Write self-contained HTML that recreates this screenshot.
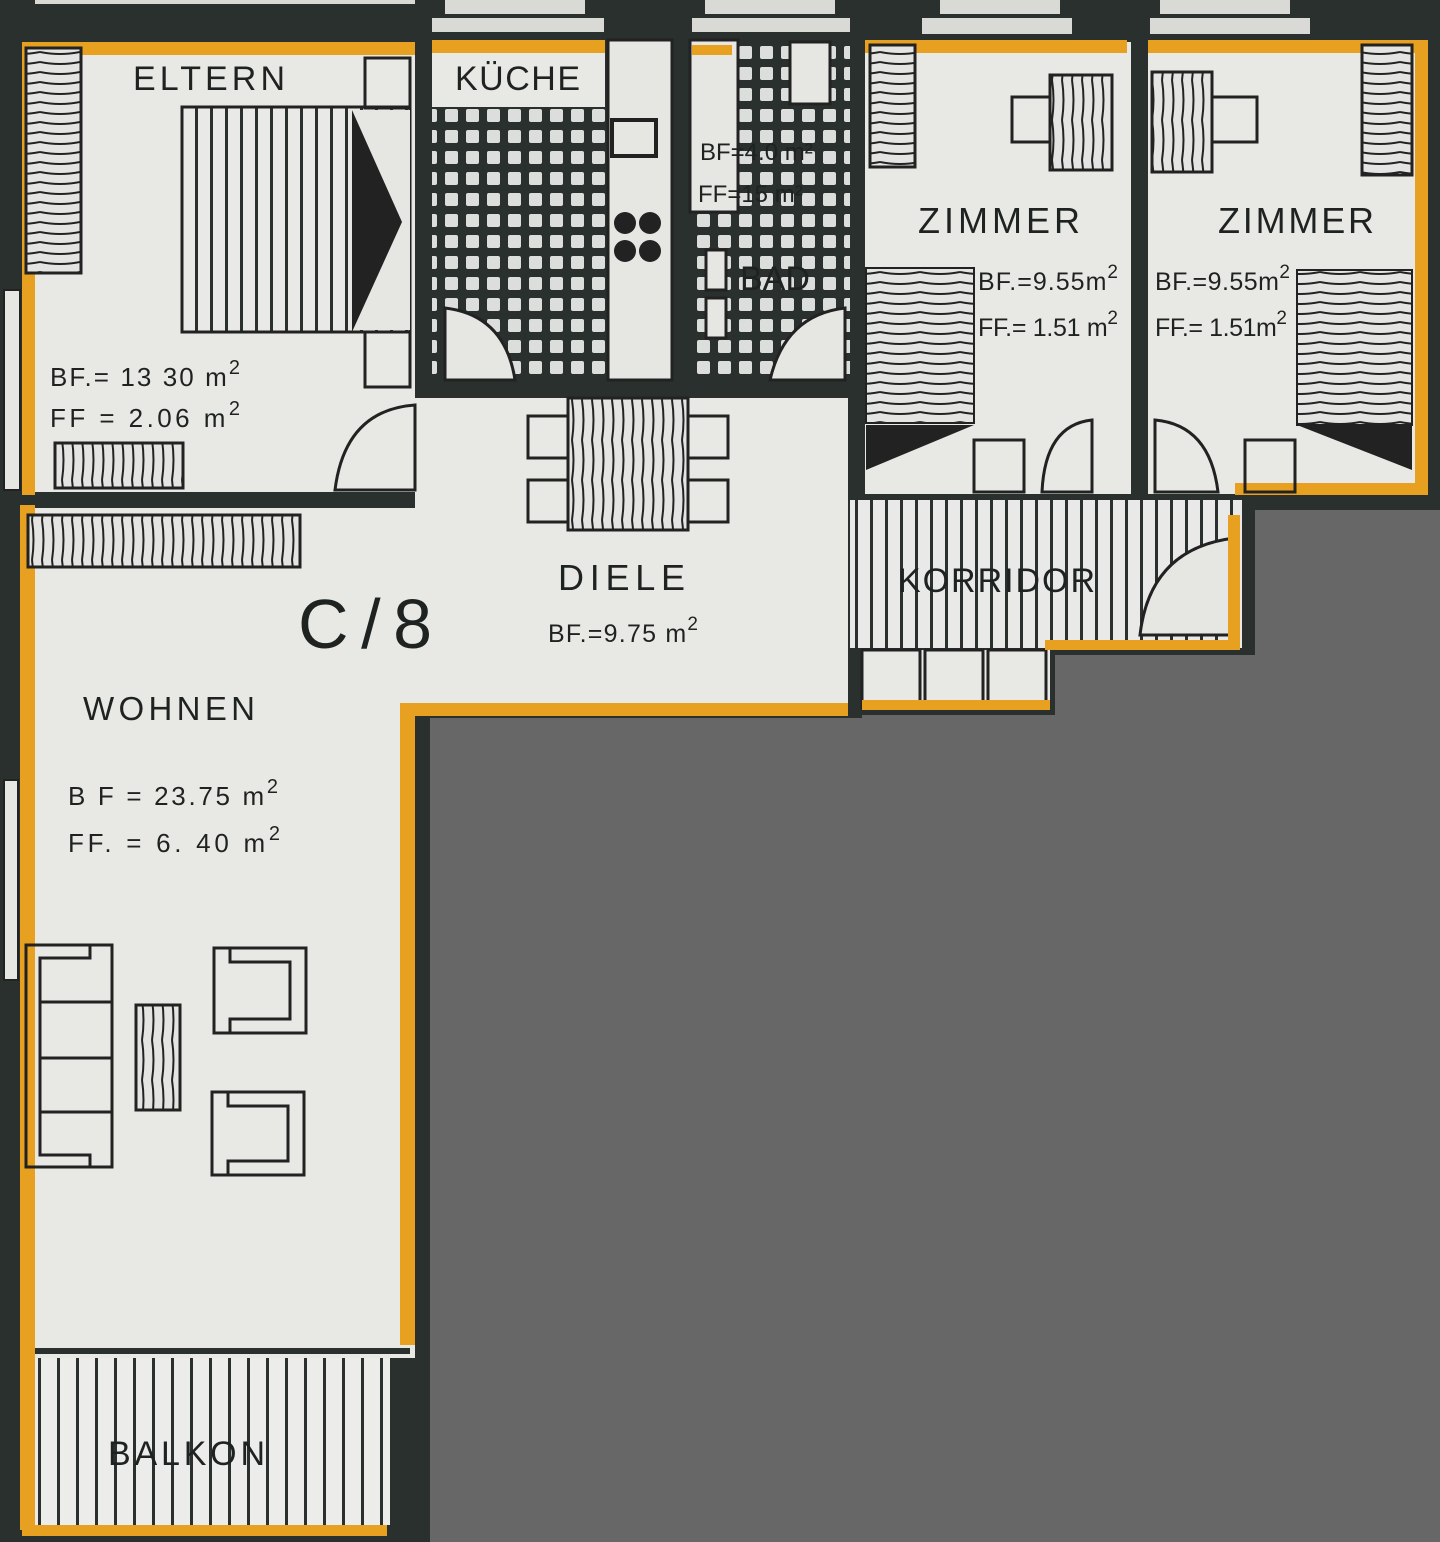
<!DOCTYPE html>
<html><head><meta charset="utf-8"><style>
html,body{margin:0;padding:0;background:#2a302e}
svg{display:block}
text{font-family:"Liberation Sans",sans-serif;fill:#1e2322}
</style></head><body>
<svg width="1440" height="1542" viewBox="0 0 1440 1542" xmlns="http://www.w3.org/2000/svg">
<defs>
<pattern id="tile" width="21" height="21" patternUnits="userSpaceOnUse">
<rect width="21" height="21" fill="#2a302e"/><rect x="4" y="4" width="13" height="13" rx="2" fill="#dcdedb"/>
</pattern>
<pattern id="vstripe" width="15" height="20" patternUnits="userSpaceOnUse">
<rect width="15" height="20" fill="#e9eae7"/><rect x="0" width="3" height="20" fill="#2a302e"/>
</pattern>
<pattern id="vstripe2" width="19" height="20" patternUnits="userSpaceOnUse">
<rect width="19" height="20" fill="#ecedea"/><rect x="0" width="3" height="20" fill="#2a302e"/>
</pattern>
<pattern id="wood" width="10" height="40" patternUnits="userSpaceOnUse">
<rect width="10" height="40" fill="#e4e5e2"/><path d="M2 0 Q5 20 2 40" stroke="#222" stroke-width="2" fill="none"/>
</pattern>
<pattern id="woodh" width="40" height="10" patternUnits="userSpaceOnUse">
<rect width="40" height="10" fill="#e4e5e2"/><path d="M0 2 Q20 6 40 2" stroke="#222" stroke-width="2" fill="none"/>
</pattern>
</defs>
<rect width="1440" height="1542" fill="#2a302e"/>
<g fill="#d9dad6">
<rect x="445" y="0" width="140" height="14"/><rect x="432" y="18" width="172" height="14"/>
<rect x="705" y="0" width="130" height="14"/><rect x="692" y="18" width="158" height="14"/>
<rect x="940" y="0" width="120" height="14"/><rect x="922" y="18" width="150" height="16"/>
<rect x="1160" y="0" width="130" height="14"/><rect x="1150" y="18" width="160" height="16"/>
<rect x="35" y="0" width="380" height="4"/>
</g>
<g fill="#e8e9e5">
<rect x="22" y="42" width="393" height="450"/>
<rect x="432" y="42" width="173" height="65"/>
<rect x="415" y="398" width="433" height="307"/>
<rect x="865" y="42" width="266" height="452"/>
<rect x="1148" y="42" width="277" height="452"/>
<rect x="20" y="508" width="395" height="850"/>
<rect x="862" y="650" width="188" height="60"/>
</g>
<rect x="4" y="290" width="16" height="200" fill="#e6e7e3" stroke="#222" stroke-width="2"/>
<rect x="4" y="780" width="14" height="200" fill="#e6e7e3" stroke="#222" stroke-width="2"/>
<rect x="432" y="107" width="173" height="275" fill="url(#tile)"/>
<rect x="690" y="40" width="160" height="342" fill="url(#tile)"/>
<rect x="608" y="40" width="64" height="340" fill="#e6e7e3" stroke="#222" stroke-width="3"/>
<rect x="612" y="120" width="44" height="36" fill="none" stroke="#222" stroke-width="4"/>
<g fill="#222"><circle cx="625" cy="223" r="11"/><circle cx="650" cy="223" r="11"/><circle cx="625" cy="251" r="11"/><circle cx="650" cy="251" r="11"/></g>
<rect x="690" y="40" width="48" height="172" fill="#e6e7e3" stroke="#222" stroke-width="3"/>
<rect x="790" y="42" width="40" height="62" fill="#e6e7e3" stroke="#222" stroke-width="3"/>
<rect x="706" y="250" width="20" height="40" fill="#e6e7e3" stroke="#222" stroke-width="3"/>
<rect x="706" y="298" width="20" height="40" fill="#e6e7e3" stroke="#222" stroke-width="3"/>
<text x="700" y="160" font-size="24">BF=4.0 m²</text><text x="698" y="202" font-size="24">FF=15 m²</text>
<text x="740" y="290" font-size="34" fill="#333">BAD</text>
<path d="M445 308 Q505 315 515 380 L445 380Z" fill="#e6e7e3" stroke="#222" stroke-width="3"/>
<path d="M845 308 Q785 315 770 380 L845 380Z" fill="#e6e7e3" stroke="#222" stroke-width="3"/>
<rect x="850" y="500" width="392" height="148" fill="url(#vstripe)"/>
<path d="M1235 538 Q1150 548 1140 635 L1235 635Z" fill="#e6e7e3" stroke="#222" stroke-width="3"/>
<g fill="none" stroke="#222" stroke-width="3"><rect x="862" y="650" width="58" height="58"/><rect x="925" y="650" width="58" height="58"/><rect x="988" y="650" width="58" height="58"/></g>
<rect x="30" y="1358" width="360" height="167" fill="url(#vstripe2)"/>
<rect x="20" y="1348" width="390" height="6" fill="#2a302e"/>
<polygon points="430,718 862,718 862,715 1055,715 1055,655 1255,655 1255,510 1440,510 1440,1542 430,1542" fill="#676767"/>
<g fill="#e8a020">
<rect x="22" y="42" width="393" height="13"/><rect x="22" y="42" width="13" height="453"/>
<rect x="432" y="40" width="173" height="13"/><rect x="692" y="45" width="40" height="10"/>
<rect x="865" y="40" width="262" height="13"/><rect x="1148" y="40" width="280" height="13"/>
<rect x="1415" y="40" width="13" height="455"/><rect x="1235" y="483" width="192" height="12"/>
<rect x="20" y="505" width="15" height="1025"/><rect x="22" y="1525" width="365" height="11"/>
<rect x="400" y="705" width="15" height="640"/><rect x="400" y="703" width="448" height="13"/>
<rect x="862" y="700" width="188" height="10"/>
<rect x="1045" y="640" width="195" height="10"/><rect x="1228" y="515" width="12" height="125"/>
</g>
<rect x="26" y="48" width="55" height="225" fill="url(#woodh)" stroke="#222" stroke-width="3"/>
<rect x="182" y="107" width="228" height="225" fill="url(#vstripe)" stroke="#222" stroke-width="3"/>
<rect x="350" y="110" width="60" height="220" fill="#e6e7e3"/>
<polygon points="352,110 402,222 352,332" fill="#222"/>
<rect x="365" y="58" width="45" height="50" fill="none" stroke="#222" stroke-width="3"/>
<rect x="365" y="332" width="45" height="55" fill="none" stroke="#222" stroke-width="3"/>
<rect x="55" y="443" width="128" height="45" fill="url(#wood)" stroke="#222" stroke-width="3"/>
<path d="M415 405 Q345 410 335 490 L415 490Z" fill="none" stroke="#222" stroke-width="3"/>
<text x="133" y="90" font-size="34" textLength="152">ELTERN</text>
<text x="455" y="90" font-size="34" textLength="125">KÜCHE</text>
<text x="50" y="386" font-size="26" textLength="190">BF.= 13 30 m<tspan font-size="20" dy="-12">2</tspan></text>
<text x="50" y="427" font-size="26" textLength="190">FF = 2.06  m<tspan font-size="20" dy="-12">2</tspan></text>
<rect x="28" y="515" width="272" height="52" fill="url(#wood)" stroke="#222" stroke-width="3"/>
<text x="298" y="648" font-size="70" textLength="134">C/8</text>
<text x="83" y="720" font-size="33" textLength="172">WOHNEN</text>
<text x="68" y="805" font-size="26" textLength="210">B F  = 23.75 m<tspan font-size="20" dy="-12">2</tspan></text>
<text x="68" y="852" font-size="26" textLength="212">FF.  =  6. 40 m<tspan font-size="20" dy="-12">2</tspan></text>
<g fill="none" stroke="#222" stroke-width="3">
<rect x="26" y="945" width="86" height="222"/><path d="M90 945 V958 H40 V1155 H90 V1167"/>
<path d="M40 1002 H112 M40 1058 H112 M40 1112 H112"/>
<rect x="214" y="948" width="92" height="85"/><path d="M230 948 V962 H290 V1019 H230 V1033"/>
<rect x="212" y="1092" width="92" height="83"/><path d="M228 1092 V1106 H288 V1161 H228 V1175"/>
</g>
<rect x="136" y="1005" width="44" height="105" fill="url(#wood)" stroke="#222" stroke-width="3"/>
<text x="108" y="1465" font-size="34" fill="#333" textLength="157">BALKON</text>
<rect x="568" y="398" width="120" height="132" fill="url(#wood)" stroke="#222" stroke-width="3"/>
<g fill="none" stroke="#222" stroke-width="3">
<rect x="528" y="416" width="40" height="42"/><rect x="528" y="480" width="40" height="42"/>
<rect x="688" y="416" width="40" height="42"/><rect x="688" y="480" width="40" height="42"/>
</g>
<text x="558" y="590" font-size="36" textLength="127">DIELE</text>
<text x="548" y="642" font-size="25" textLength="150">BF.=9.75 m<tspan font-size="19" dy="-12">2</tspan></text>
<text x="898" y="592" font-size="34" fill="#222" textLength="197">KORRIDOR</text>
<rect x="870" y="45" width="45" height="122" fill="url(#woodh)" stroke="#222" stroke-width="3"/>
<rect x="1050" y="75" width="62" height="95" fill="url(#wood)" stroke="#222" stroke-width="3"/>
<rect x="1012" y="97" width="38" height="45" fill="none" stroke="#222" stroke-width="3"/>
<rect x="866" y="268" width="108" height="155" fill="url(#woodh)" stroke="#222" stroke-width="2"/>
<polygon points="866,425 974,425 866,470" fill="#222"/>
<rect x="974" y="440" width="50" height="52" fill="none" stroke="#222" stroke-width="3"/>
<path d="M1092 420 Q1045 425 1042 492 L1092 492Z" fill="none" stroke="#222" stroke-width="3"/>
<text x="918" y="233" font-size="36" textLength="162">ZIMMER</text>
<text x="978" y="290" font-size="25" textLength="140">BF.=9.55m<tspan font-size="19" dy="-12">2</tspan></text>
<text x="978" y="336" font-size="25" textLength="140">FF.= 1.51 m<tspan font-size="19" dy="-12">2</tspan></text>
<rect x="1152" y="72" width="60" height="100" fill="url(#wood)" stroke="#222" stroke-width="3"/>
<rect x="1212" y="97" width="45" height="45" fill="none" stroke="#222" stroke-width="3"/>
<rect x="1362" y="45" width="50" height="130" fill="url(#woodh)" stroke="#222" stroke-width="3"/>
<rect x="1297" y="270" width="115" height="155" fill="url(#woodh)" stroke="#222" stroke-width="2"/>
<polygon points="1297,425 1412,425 1412,470" fill="#222"/>
<rect x="1245" y="440" width="50" height="52" fill="none" stroke="#222" stroke-width="3"/>
<path d="M1155 420 Q1210 425 1218 492 L1155 492Z" fill="none" stroke="#222" stroke-width="3"/>
<text x="1218" y="233" font-size="36" textLength="156">ZIMMER</text>
<text x="1155" y="290" font-size="25" textLength="135">BF.=9.55m<tspan font-size="19" dy="-12">2</tspan></text>
<text x="1155" y="336" font-size="25" textLength="132">FF.= 1.51m<tspan font-size="19" dy="-12">2</tspan></text>
</svg>
</body></html>
